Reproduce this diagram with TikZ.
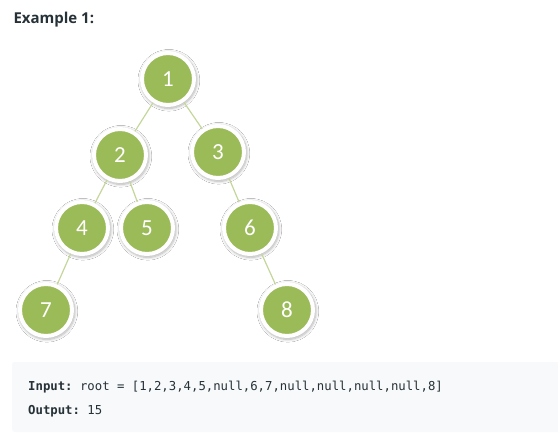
\documentclass[tikz,border=0pt]{standalone}
\usepackage{fontspec}
\setmainfont{Open Sans}
\newfontfamily\numfont{Carlito}
\setmonofont{DejaVu Sans Mono}
\usetikzlibrary{shadows.blur}
\definecolor{nodegreen}{HTML}{9BBB59}
\definecolor{edgegreen}{HTML}{C4D79B}
\definecolor{txt}{HTML}{263238}
\definecolor{codebg}{HTML}{F7F9FA}
\tikzset{
  tnode/.style={circle, minimum size=52pt, inner sep=0pt, fill=nodegreen,
    draw=white, line width=4pt, text=white,
    font=\numfont\fontsize{23}{23}\selectfont,
    blur shadow={shadow blur steps=10, shadow blur radius=2.5pt, shadow scale=1.08, shadow xshift=0.8pt, shadow yshift=-1.2pt, shadow opacity=30}},
  tedge/.style={draw=edgegreen, line width=1.2pt}
}
\begin{document}
\begin{tikzpicture}[x=1pt,y=-1pt]
\useasboundingbox[fill=white] (0,0) rectangle (558,444);
\node[anchor=west, text=txt, font=\fontsize{15}{15}\selectfont\bfseries] (title) at (10,20) {Example 1:};
\fill[codebg, rounded corners=3pt] (12,362) rectangle (562,432);
\node (n1) [tnode] at (168,79) {1};
\node (n2) [tnode] at (120,155) {2};
\node (n3) [tnode] at (218,152) {3};
\node (n4) [tnode] at (82,228) {4};
\node (n5) [tnode] at (147,228) {5};
\node (n6) [tnode] at (250,228) {6};
\node (n7) [tnode] at (46,310) {7};
\node (n8) [tnode] at (287,310) {8};
\path[tedge] (n1) -- (n2);
\path[tedge] (n1) -- (n3);
\path[tedge] (n2) -- (n4);
\path[tedge] (n2) -- (n5);
\path[tedge] (n3) -- (n6);
\path[tedge] (n4) -- (n7);
\path[tedge] (n6) -- (n8);
\node[anchor=base west, text=txt, font=\ttfamily\fontsize{12.3}{12.3}\selectfont, inner sep=0pt] (in) at (28,390) {\textbf{Input:} root = [1,2,3,4,5,null,6,7,null,null,null,null,8]};
\node[anchor=base west, text=txt, font=\ttfamily\fontsize{12.3}{12.3}\selectfont, inner sep=0pt] (out) at (28,414) {\textbf{Output:} 15};
\end{tikzpicture}
\end{document}
